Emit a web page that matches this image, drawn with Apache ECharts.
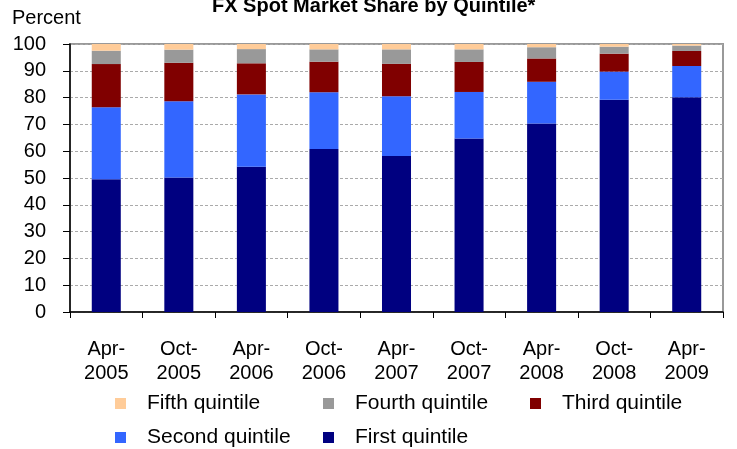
<!DOCTYPE html>
<html>
<head>
<meta charset="utf-8">
<script src="https://cdn.jsdelivr.net/npm/echarts@6/dist/echarts.min.js"></script>
<style>
  html, body { margin: 0; padding: 0; background: #fff; }
  #chart { width: 737px; height: 449px; }
</style>
</head>
<body>
<div id="chart"></div>
<script>
// categories and values (percent)
var categories = ['Apr-\n2005', 'Oct-\n2005', 'Apr-\n2006', 'Oct-\n2006', 'Apr-\n2007', 'Oct-\n2007', 'Apr-\n2008', 'Oct-\n2008', 'Apr-\n2009'];
var firstQuintile  = [49.5, 50.2, 54.2, 60.8, 58.2, 64.7, 70.3, 79.2, 80.1];
var secondQuintile = [26.9, 28.4, 27.0, 21.2, 22.3, 17.4, 15.6, 10.5, 11.7];
var thirdQuintile  = [16.1, 14.4, 11.6, 11.4, 12.1, 11.2, 8.7, 6.7, 5.6];
var fourthQuintile = [5.0, 4.9, 5.3, 4.6, 5.4, 4.7, 4.2, 2.6, 2.0];
var fifthQuintile  = [2.5, 2.1, 1.9, 2.0, 2.0, 2.0, 1.2, 1.0, 0.6];

var font = 'Liberation Sans, Arial, sans-serif';

var chart = echarts.init(document.getElementById('chart'));

// one bar series in the stack
var makeSeries = function (name, data, color) {
    return {
        name: name,
        type: 'bar',
        stack: 'q',
        barWidth: '40%',
        data: data,
        itemStyle: { color: color },
        emphasis: { disabled: true }
    };
};

// one legend item, placed by hand
var makeLegend = function (name, left, top) {
    return {
        data: [name],
        left: left,
        top: top,
        icon: 'rect',
        itemWidth: 11,
        itemHeight: 11,
        padding: 0,
        selectedMode: false,
        textStyle: { fontFamily: font, fontSize: 21, color: '#000', padding: [0, 0, 0, 16] }
    };
};

var option = {
    backgroundColor: '#fff',
    animation: false,
    title: {
        text: 'FX Spot Market Share by Quintile*',
        left: 212,
        top: -4,
        padding: 0,
        textStyle: { fontFamily: font, fontSize: 20, fontWeight: 'bold', color: '#000' }
    },
    graphic: [{
        type: 'text',
        left: 12,
        top: 8,
        style: { text: 'Percent', font: '20px ' + font, fill: '#000' }
    }],
    legend: [
        makeLegend('Fifth quintile', 115, 393),
        makeLegend('Fourth quintile', 323, 393),
        makeLegend('Third quintile', 530, 393),
        makeLegend('Second quintile', 115, 427),
        makeLegend('First quintile', 323, 427)
    ],
    grid: {
        left: 70,
        right: 14,
        top: 44,
        bottom: 137,
        show: true,
        borderColor: '#999',
        borderWidth: 2
    },
    xAxis: {
        type: 'category',
        data: categories,
        axisLine: { lineStyle: { color: '#000', width: 1.5 } },
        axisTick: { show: true, length: 6, lineStyle: { color: '#000' } },
        axisLabel: { fontFamily: font, fontSize: 20, color: '#000', lineHeight: 24, margin: 25, interval: 0 }
    },
    yAxis: {
        type: 'value',
        min: 0,
        max: 100,
        interval: 10,
        axisLine: { show: true, lineStyle: { color: '#000', width: 1.5 } },
        axisTick: { show: true, length: 7, lineStyle: { color: '#000' } },
        axisLabel: { fontFamily: font, fontSize: 20, color: '#000', margin: 24 },
        splitLine: { lineStyle: { color: '#aaa', type: [3, 2] } }
    },
    series: [
        makeSeries('First quintile', firstQuintile, '#000080'),
        makeSeries('Second quintile', secondQuintile, '#3366FF'),
        makeSeries('Third quintile', thirdQuintile, '#800000'),
        makeSeries('Fourth quintile', fourthQuintile, '#999999'),
        makeSeries('Fifth quintile', fifthQuintile, '#FFCC99')
    ]
};

chart.setOption(option);
</script>
</body>
</html>
